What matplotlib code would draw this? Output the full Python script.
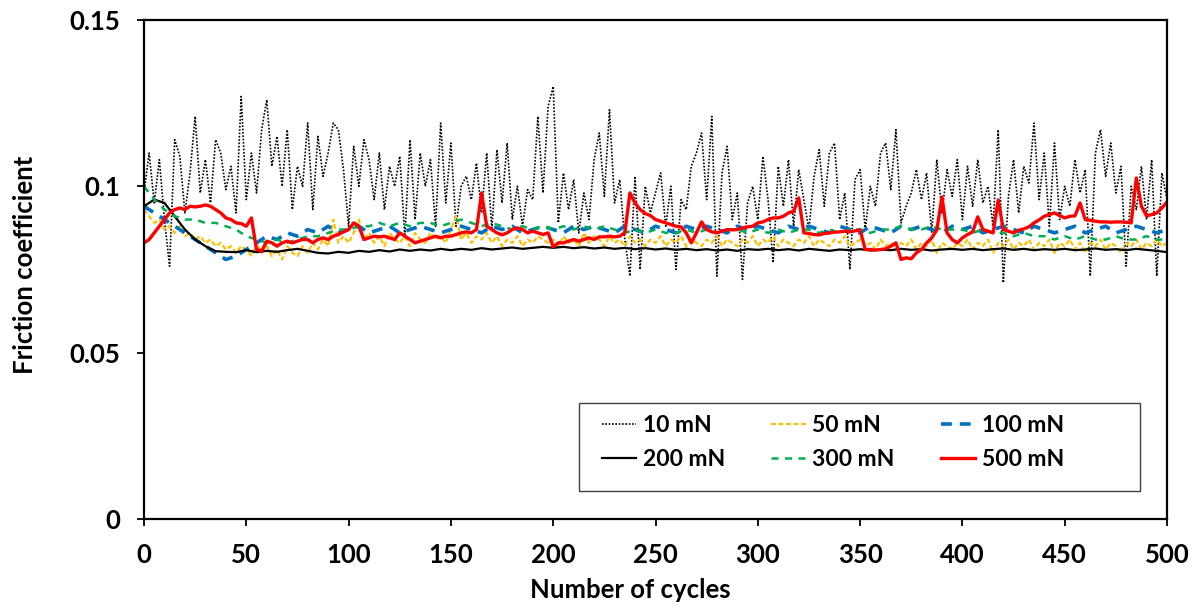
import numpy as np
import matplotlib
matplotlib.use("Agg")
import matplotlib.pyplot as plt
from matplotlib.patches import Rectangle

# Friction coefficient vs. number of cycles for six normal loads
cycles_fine = np.arange(0, 500.01, 2.5)    # 201 samples
cycles_coarse = np.arange(0, 500.01, 5.0)  # 101 samples

mu_10mN = [
    0.098, 0.110, 0.095, 0.108, 0.090, 0.076, 0.114, 0.109, 0.092, 0.104, 0.121, 0.098, 0.108, 0.095, 0.114, 0.110, 0.099, 0.106, 0.092, 0.127,
    0.096, 0.110, 0.098, 0.117, 0.126, 0.106, 0.115, 0.100, 0.117, 0.093, 0.106, 0.100, 0.119, 0.093, 0.115, 0.103, 0.110, 0.119, 0.117, 0.105,
    0.088, 0.112, 0.100, 0.114, 0.108, 0.096, 0.110, 0.093, 0.106, 0.100, 0.109, 0.085, 0.114, 0.090, 0.110, 0.100, 0.108, 0.088, 0.119, 0.095,
    0.113, 0.088, 0.100, 0.103, 0.096, 0.107, 0.092, 0.110, 0.087, 0.111, 0.095, 0.113, 0.090, 0.100, 0.088, 0.099, 0.096, 0.121, 0.098, 0.124,
    0.130, 0.089, 0.104, 0.093, 0.102, 0.086, 0.098, 0.090, 0.108, 0.116, 0.097, 0.123, 0.095, 0.102, 0.084, 0.073, 0.103, 0.075, 0.100, 0.092,
    0.098, 0.104, 0.088, 0.100, 0.075, 0.096, 0.093, 0.106, 0.110, 0.116, 0.096, 0.121, 0.073, 0.104, 0.112, 0.090, 0.098, 0.072, 0.095, 0.100,
    0.090, 0.109, 0.096, 0.077, 0.106, 0.094, 0.108, 0.088, 0.105, 0.096, 0.087, 0.103, 0.111, 0.094, 0.110, 0.113, 0.090, 0.098, 0.075, 0.102,
    0.105, 0.087, 0.100, 0.094, 0.110, 0.113, 0.099, 0.117, 0.089, 0.094, 0.098, 0.105, 0.096, 0.104, 0.086, 0.108, 0.092, 0.105, 0.097, 0.108,
    0.090, 0.106, 0.094, 0.108, 0.095, 0.100, 0.088, 0.117, 0.071, 0.097, 0.108, 0.092, 0.106, 0.101, 0.119, 0.096, 0.110, 0.088, 0.113, 0.090,
    0.100, 0.094, 0.108, 0.098, 0.105, 0.073, 0.110, 0.117, 0.103, 0.113, 0.098, 0.106, 0.076, 0.100, 0.093, 0.106, 0.090, 0.108, 0.073, 0.104,
    0.096,
]

mu_50mN = [
    0.093, 0.091, 0.089, 0.090, 0.087, 0.088, 0.086, 0.088, 0.085, 0.086, 0.084, 0.085, 0.083, 0.084, 0.082, 0.083, 0.081, 0.082, 0.080, 0.082,
    0.081, 0.079, 0.083, 0.080, 0.082, 0.079, 0.081, 0.078, 0.082, 0.080, 0.079, 0.082, 0.080, 0.083, 0.081, 0.084, 0.082, 0.090, 0.083, 0.085,
    0.083, 0.086, 0.090, 0.084, 0.086, 0.083, 0.085, 0.082, 0.086, 0.084, 0.083, 0.085, 0.082, 0.086, 0.084, 0.083, 0.086, 0.084, 0.085, 0.083,
    0.087, 0.091, 0.084, 0.086, 0.083, 0.085, 0.084, 0.086, 0.083, 0.085, 0.082, 0.084, 0.083, 0.085, 0.082, 0.084, 0.083, 0.085, 0.084, 0.083,
    0.084, 0.082, 0.085, 0.083, 0.084, 0.082, 0.086, 0.083, 0.085, 0.084, 0.082, 0.085, 0.083, 0.084, 0.082, 0.085, 0.083, 0.084, 0.082, 0.084,
    0.083, 0.085, 0.082, 0.084, 0.083, 0.085, 0.082, 0.084, 0.083, 0.082, 0.084, 0.083, 0.085, 0.082, 0.084, 0.083, 0.082, 0.084, 0.083, 0.085,
    0.082, 0.084, 0.083, 0.085, 0.082, 0.084, 0.083, 0.082, 0.084, 0.083, 0.085, 0.082, 0.084, 0.083, 0.082, 0.084, 0.083, 0.085, 0.082, 0.083,
    0.084, 0.082, 0.083, 0.081, 0.084, 0.082, 0.083, 0.081, 0.083, 0.082, 0.084, 0.081, 0.083, 0.082, 0.084, 0.080, 0.083, 0.082, 0.081, 0.083,
    0.082, 0.084, 0.081, 0.083, 0.082, 0.084, 0.080, 0.083, 0.082, 0.084, 0.081, 0.083, 0.082, 0.084, 0.081, 0.083, 0.082, 0.084, 0.080, 0.083,
    0.082, 0.084, 0.081, 0.083, 0.080, 0.083, 0.082, 0.084, 0.081, 0.083, 0.082, 0.080, 0.083, 0.082, 0.084, 0.081, 0.083, 0.082, 0.084, 0.082,
    0.083,
]

mu_100mN = [
    0.094, 0.092, 0.090, 0.088, 0.086, 0.084, 0.082, 0.080, 0.078, 0.079,
    0.081, 0.083, 0.085, 0.084, 0.086, 0.085, 0.087, 0.086, 0.088, 0.086,
    0.087, 0.088, 0.086, 0.087, 0.088, 0.086, 0.087, 0.088, 0.087, 0.086,
    0.087, 0.088, 0.087, 0.086, 0.088, 0.087, 0.088, 0.086, 0.087, 0.088,
    0.087, 0.086, 0.088, 0.087, 0.088, 0.087, 0.086, 0.088, 0.087, 0.086,
    0.088, 0.087, 0.086, 0.088, 0.087, 0.088, 0.087, 0.086, 0.088, 0.087,
    0.088, 0.087, 0.086, 0.088, 0.087, 0.088, 0.087, 0.086, 0.088, 0.087,
    0.086, 0.088, 0.087, 0.086, 0.088, 0.087, 0.088, 0.087, 0.086, 0.088,
    0.087, 0.088, 0.086, 0.087, 0.088, 0.087, 0.086, 0.088, 0.087, 0.086,
    0.087, 0.088, 0.086, 0.087, 0.088, 0.086, 0.087, 0.088, 0.087, 0.086,
    0.087,
]

mu_200mN = [
    0.094, 0.096, 0.095, 0.091, 0.087, 0.084, 0.082, 0.0805, 0.0803, 0.0802,
    0.0808, 0.0802, 0.0806, 0.0803, 0.0808, 0.0812, 0.0806, 0.0800, 0.0798, 0.0803,
    0.0800, 0.0806, 0.0803, 0.0808, 0.0804, 0.0810, 0.0806, 0.0810, 0.0807, 0.0812,
    0.0808, 0.0812, 0.0809, 0.0814, 0.0810, 0.0813, 0.0816, 0.0812, 0.0815, 0.0818,
    0.0815, 0.0818, 0.0814, 0.0817, 0.0813, 0.0816, 0.0812, 0.0815, 0.0811, 0.0814,
    0.0810, 0.0813, 0.0809, 0.0812, 0.0808, 0.0811, 0.0807, 0.0810, 0.0806, 0.0811,
    0.0809, 0.0812, 0.0808, 0.0811, 0.0807, 0.0812, 0.0809, 0.0806, 0.0810, 0.0808,
    0.0811, 0.0807, 0.0810, 0.0808, 0.0812, 0.0809, 0.0811, 0.0807, 0.0810, 0.0812,
    0.0809, 0.0812, 0.0808, 0.0811, 0.0813, 0.0809, 0.0812, 0.0808, 0.0811, 0.0809,
    0.0812, 0.0808, 0.0810, 0.0813, 0.0809, 0.0811, 0.0808, 0.0812, 0.0809, 0.0806,
    0.0802,
]

mu_300mN = [
    0.100, 0.096, 0.093, 0.091, 0.090, 0.090, 0.089, 0.089, 0.088, 0.087,
    0.085, 0.084, 0.083, 0.084, 0.083, 0.084, 0.085, 0.085, 0.086, 0.087,
    0.087, 0.088, 0.088, 0.089, 0.088, 0.089, 0.088, 0.089, 0.089, 0.088,
    0.089, 0.090, 0.089, 0.088, 0.089, 0.088, 0.087, 0.088, 0.087, 0.088,
    0.087, 0.088, 0.087, 0.088, 0.087, 0.088, 0.087, 0.086, 0.087, 0.086,
    0.087, 0.086, 0.086, 0.087, 0.086, 0.087, 0.086, 0.087, 0.087, 0.086,
    0.087, 0.086, 0.087, 0.086, 0.087, 0.087, 0.086, 0.087, 0.086, 0.087,
    0.087, 0.086, 0.087, 0.087, 0.088, 0.087, 0.087, 0.088, 0.087, 0.087,
    0.087, 0.086, 0.087, 0.086, 0.086, 0.085, 0.086, 0.085, 0.085, 0.084,
    0.085, 0.084, 0.085, 0.084, 0.084, 0.085, 0.084, 0.084, 0.085, 0.084,
    0.084,
]

mu_500mN = [
    0.083, 0.084, 0.086, 0.088, 0.090, 0.092, 0.093, 0.0935, 0.093, 0.094, 0.0938, 0.094, 0.0944, 0.094, 0.093, 0.092, 0.0905, 0.090, 0.089, 0.0888,
    0.088, 0.0905, 0.081, 0.0805, 0.0835, 0.083, 0.082, 0.083, 0.0835, 0.083, 0.0835, 0.084, 0.084, 0.083, 0.084, 0.0845, 0.084, 0.085, 0.0855, 0.0863,
    0.087, 0.089, 0.088, 0.084, 0.0845, 0.085, 0.0848, 0.085, 0.0845, 0.084, 0.086, 0.085, 0.084, 0.083, 0.0835, 0.084, 0.0845, 0.085, 0.0845, 0.085,
    0.085, 0.0855, 0.086, 0.0863, 0.086, 0.087, 0.098, 0.088, 0.087, 0.086, 0.0854, 0.086, 0.087, 0.0875, 0.087, 0.086, 0.0865, 0.086, 0.0855, 0.086,
    0.0818, 0.083, 0.083, 0.0835, 0.084, 0.0835, 0.084, 0.0845, 0.084, 0.0848, 0.0848, 0.085, 0.0848, 0.085, 0.086, 0.098, 0.095, 0.093, 0.0918, 0.0912,
    0.090, 0.0895, 0.089, 0.0885, 0.088, 0.0878, 0.086, 0.083, 0.086, 0.0893, 0.087, 0.0863, 0.086, 0.0865, 0.087, 0.0869, 0.087, 0.0875, 0.0878, 0.088,
    0.089, 0.0893, 0.090, 0.0905, 0.0905, 0.091, 0.092, 0.0925, 0.0965, 0.086, 0.0858, 0.0855, 0.0854, 0.0858, 0.086, 0.0862, 0.0863, 0.0865, 0.0863, 0.0866,
    0.0869, 0.081, 0.081, 0.0808, 0.081, 0.0812, 0.082, 0.083, 0.078, 0.0785, 0.0782, 0.080, 0.081, 0.083, 0.0845, 0.0869, 0.0968, 0.086, 0.084, 0.083,
    0.0845, 0.0855, 0.0863, 0.0908, 0.087, 0.0865, 0.086, 0.0959, 0.087, 0.0865, 0.086, 0.0868, 0.0872, 0.0878, 0.089, 0.0899, 0.091, 0.0915, 0.092, 0.0912,
    0.0905, 0.091, 0.0911, 0.095, 0.090, 0.0898, 0.0895, 0.0893, 0.0893, 0.0892, 0.0893, 0.0893, 0.0892, 0.089, 0.1025, 0.094, 0.0911, 0.0915, 0.092, 0.0935,
    0.0953,
]

x_ticks = [0, 50, 100, 150, 200, 250, 300, 350, 400, 450, 500]
y_ticks = [0, 0.05, 0.1, 0.15]
y_tick_labels = ["0", "0.05", "0.1", "0.15"]

plt.rcParams["font.family"] = ["Lato", "DejaVu Sans"]
plt.rcParams["font.weight"] = "bold"

fig = plt.figure(figsize=(12.01, 6.12), dpi=100)
ax = fig.add_axes([0.1199, 0.152, 0.8518, 0.8154])

l10, = ax.plot(cycles_fine, mu_10mN, color="black", lw=1.2, ls=(0, (1, 1)), label="10 mN")
l50, = ax.plot(cycles_fine, mu_50mN, color="#FFC000", lw=1.6, ls=(0, (2.2, 1.2)), label="50 mN")
l100, = ax.plot(cycles_coarse, mu_100mN, color="#0070C0", lw=2.6, ls=(0, (3, 2.2)), label="100 mN")
l200, = ax.plot(cycles_coarse, mu_200mN, color="black", lw=1.6, ls="-", label="200 mN")
l300, = ax.plot(cycles_coarse, mu_300mN, color="#00B050", lw=1.8, ls=(0, (2.8, 2.6)), label="300 mN")
l500, = ax.plot(cycles_fine, mu_500mN, color="#FF0000", lw=2.4, ls="-", label="500 mN")

ax.set_xlim(0, 500)
ax.set_ylim(0, 0.15)
ax.set_xticks(x_ticks)
ax.set_yticks(y_ticks)
ax.set_yticklabels(y_tick_labels)
ax.tick_params(direction="out", length=5, width=1.3, pad=12, labelsize=18.5)
for s in ax.spines.values():
    s.set_linewidth(1.6)

ax.set_xlabel("Number of cycles", fontsize=18.5, fontweight="bold")
ax.set_ylabel("Friction coefficient", fontsize=18.5, fontweight="bold")
ax.xaxis.set_label_coords(0.475, -0.118)
ax.yaxis.set_label_coords(-0.1046, 0.51)

# legend frame drawn separately, entries laid out in two rows of three
ax.add_patch(Rectangle((0.425, 0.056), 0.549, 0.1765, transform=ax.transAxes,
                       fill=False, lw=1.0, ec="#404040", zorder=5))
handles = [l10, l200, l50, l300, l100, l500]
ax.legend(handles=handles, labels=[h.get_label() for h in handles], ncol=3,
          loc="center", bbox_to_anchor=(0.6735, 0.1533), frameon=False,
          fontsize=16.5, handlelength=1.5, handletextpad=0.3, columnspacing=2.0,
          labelspacing=0.6, borderpad=0)

fig.savefig("out.png", dpi=100)
